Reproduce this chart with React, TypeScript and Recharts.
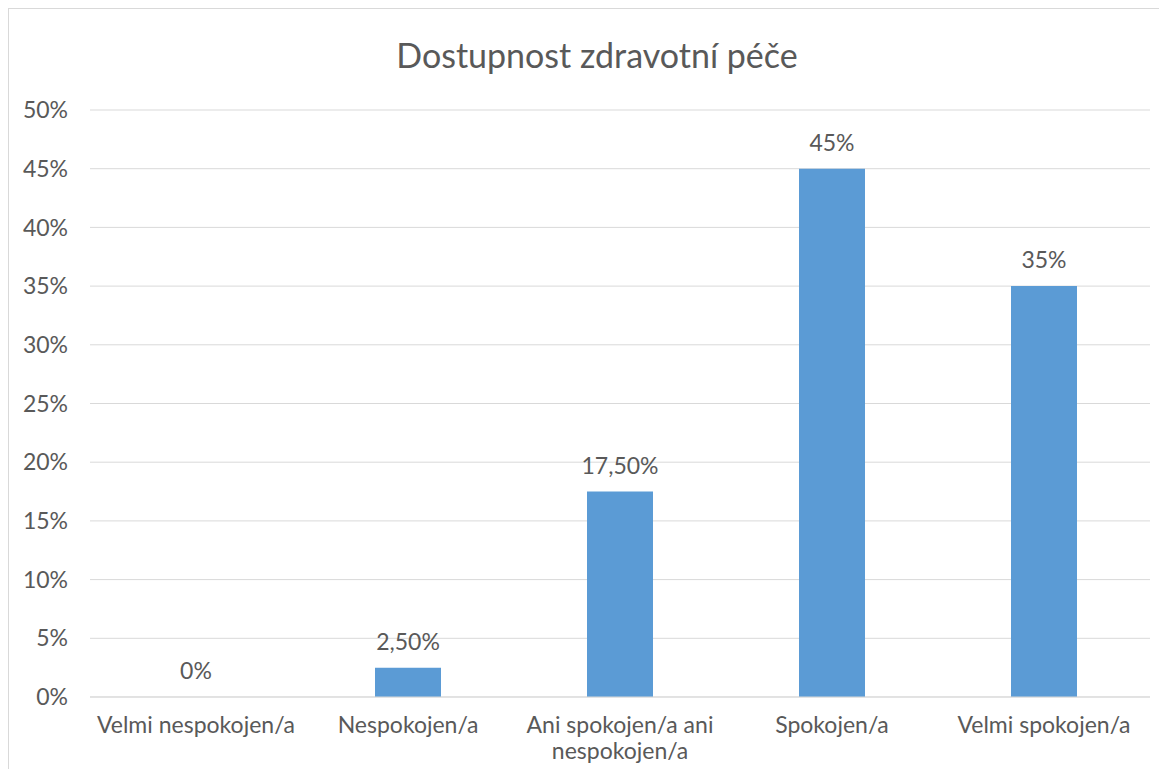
import { Bar, BarChart, CartesianGrid, Rectangle, XAxis, YAxis } from 'recharts'

const categories = ['Velmi nespokojen/a', 'Nespokojen/a', 'Ani spokojen/a ani nespokojen/a', 'Spokojen/a', 'Velmi spokojen/a']
const values = [0, 2.5, 17.5, 45, 35]
const yTicks = [0, 5, 10, 15, 20, 25, 30, 35, 40, 45, 50]

const data = categories.map((name, i) => ({ name, value: values[i] }))

const FONT = 'Lato, "Open Sans", sans-serif'
const TEXT = '#595959'
const FS = 23

const fmtLabel = (v: any) => {
    const n = Number(v)
    return Number.isInteger(n) ? `${n}%` : `${n.toFixed(2).replace('.', ',')}%`
}

// greedy wrap, max 18 chars per line
const wrap = (s: string) => {
    const lines: string[] = []
    let cur = ''
    s.split(' ').forEach((w) => {
        const next = cur ? `${cur} ${w}` : w
        if (next.length > 18 && cur) {
            lines.push(cur)
            cur = w
        } else cur = next
    })
    if (cur) lines.push(cur)
    return lines
}

function CatTick({ x, y, payload }: any) {
    const lines = wrap(String(payload.value))
    return (
        <text x={x} y={y} textAnchor="middle" fill={TEXT} fontSize={FS} fontFamily={FONT}>
            {lines.map((l, i) => (
                <tspan key={i} x={x} dy={i === 0 ? 28 : 26}>
                    {l}
                </tspan>
            ))}
        </text>
    )
}

// bar shape that also draws its value label (so the 0% label shows too)
function BarWithLabel(p: any) {
    const cx = Number(p.x) + Number(p.width) / 2
    const v = p.payload?.value
    return (
        <g>
            {p.height > 0 && <Rectangle {...p} />}
            <text x={cx} y={Number(p.y) - 18} textAnchor="middle" fill={TEXT} fontSize={FS} fontFamily={FONT}>
                {fmtLabel(v)}
            </text>
        </g>
    )
}

export default function App() {
    return (
        <div
            style={{
                position: 'relative',
                width: 1150,
                height: 760,
                borderLeft: '1px solid #d9d9d9',
                borderTop: '1px solid #d9d9d9',
                background: '#fff',
            }}
        >
            <div
                style={{
                    position: 'absolute',
                    left: 288,
                    width: 600,
                    top: 26,
                    lineHeight: '40px',
                    textAlign: 'center',
                    fontFamily: FONT,
                    fontSize: 34,
                    color: TEXT,
                }}
            >
                Dostupnost zdravotní péče
            </div>
            <BarChart width={1150} height={760} data={data} margin={{ top: 101, right: 9, bottom: 12, left: 0 }}>
                <CartesianGrid vertical={false} stroke="#d9d9d9" />
                <XAxis
                    dataKey="name"
                    axisLine={{ stroke: '#d9d9d9' }}
                    tickLine={false}
                    height={60}
                    interval={0}
                    tick={<CatTick />}
                />
                <YAxis
                    domain={[0, 50]}
                    ticks={yTicks}
                    width={81}
                    axisLine={false}
                    tickLine={false}
                    tickSize={0}
                    tickMargin={22}
                    tickFormatter={(v) => `${v}%`}
                    tick={{ fill: TEXT, fontSize: FS, fontFamily: FONT }}
                />
                <Bar dataKey="value" fill="#5b9bd5" barSize={66} isAnimationActive={false} shape={<BarWithLabel />} />
            </BarChart>
        </div>
    )
}
